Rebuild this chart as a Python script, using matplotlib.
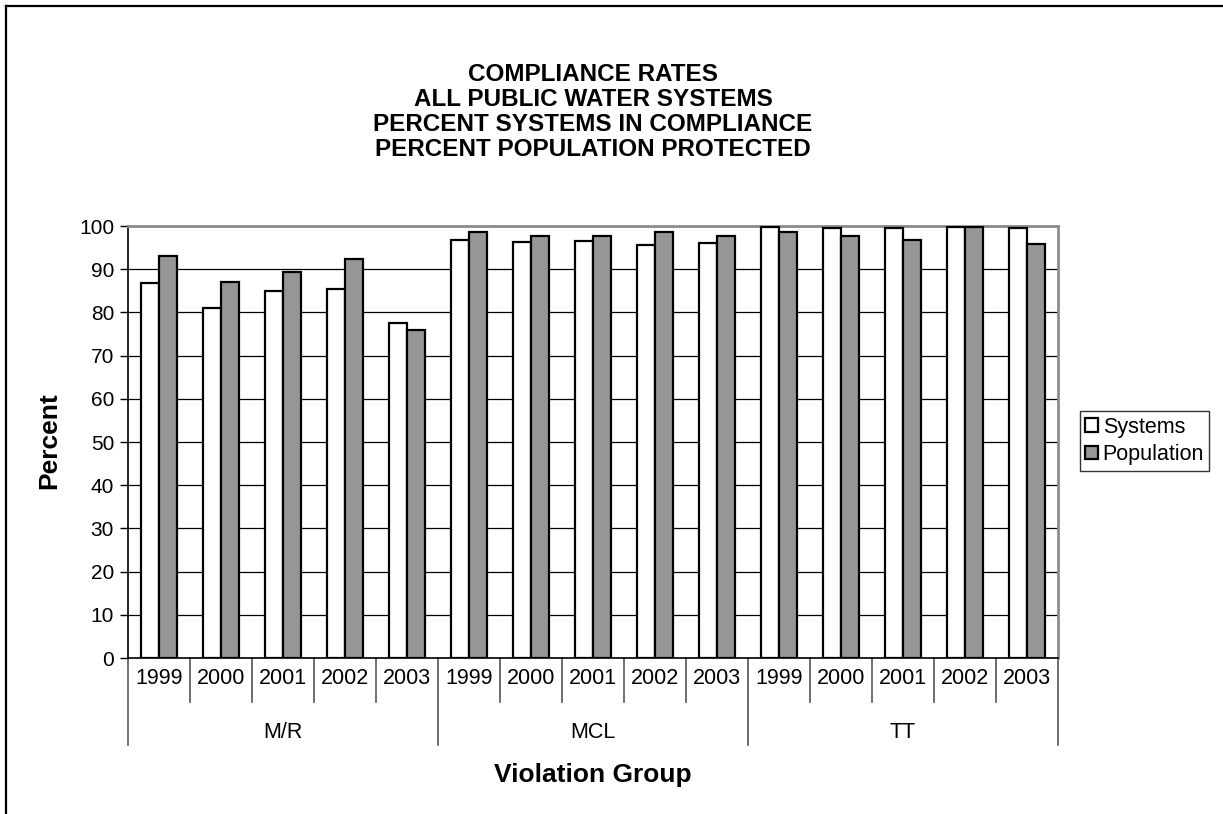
import matplotlib
matplotlib.use("Agg")
import matplotlib.pyplot as plt
import matplotlib.transforms as mtransforms
from matplotlib.patches import Patch
from matplotlib.lines import Line2D

plt.rcParams['font.family'] = ['Liberation Sans', 'DejaVu Sans']

groups = ["M/R", "MCL", "TT"]
years = ["1999", "2000", "2001", "2002", "2003"]
systems = [86.9, 81.1, 84.9, 85.4, 77.6,
           96.8, 96.3, 96.6, 95.5, 96.0,
           99.7, 99.6, 99.6, 99.8, 99.6]
population = [93.1, 87.0, 89.4, 92.3, 75.9,
              98.5, 97.8, 97.8, 98.5, 97.8,
              98.6, 97.8, 96.7, 99.7, 95.8]
yticks = list(range(0, 101, 10))

W, H = 1223, 814
fig = plt.figure(figsize=(W / 100, H / 100), dpi=100)
ax = fig.add_axes([128 / W, 1 - 658 / H, 930 / W, 432 / H])

n = len(systems)
xs = list(range(n))
bw = 0.29
ax.bar([x - bw / 2 for x in xs], systems, width=bw, color="white",
       edgecolor="black", linewidth=1.6, zorder=3, label="Systems")
ax.bar([x + bw / 2 for x in xs], population, width=bw, color="#969696",
       edgecolor="black", linewidth=1.6, zorder=3, label="Population")

ax.set_xlim(-0.5, n - 0.5)
ax.set_ylim(0, 100)
ax.set_yticks(yticks)
ax.tick_params(axis="y", direction="out", length=6, width=1, labelsize=15,
               pad=4, colors="black")
ax.set_xticks([])
ax.yaxis.grid(True, color="black", linewidth=0.9, zorder=0)
ax.set_axisbelow(True)
for side in ("top", "right"):
    ax.spines[side].set_color("#8c8c8c")
    ax.spines[side].set_linewidth(2)
ax.spines["left"].set_color("black")
ax.spines["left"].set_linewidth(1.2)
ax.spines["bottom"].set_color("black")
ax.spines["bottom"].set_linewidth(1.2)

# two-level category axis: years, then violation groups
trans = mtransforms.blended_transform_factory(ax.transData, ax.transAxes)
px = 1 / 432
year_sep = -44 * px
group_sep = -87 * px
for i in range(n + 1):
    x = i - 0.5
    bottom = group_sep if i % len(years) == 0 else year_sep
    ax.add_line(Line2D([x, x], [0, bottom], transform=trans, color="#555555",
                       linewidth=1.2, clip_on=False))
for i in range(n):
    ax.text(i, -21 * px, years[i % len(years)], transform=trans, ha="center",
            va="center", fontsize=15.5)
for g, name in enumerate(groups):
    center = g * len(years) + (len(years) - 1) / 2
    ax.text(center, -74 * px, name, transform=trans, ha="center",
            va="center", fontsize=15.5)

fig.text(49 / W, 1 - 441 / H, "Percent", ha="center", va="center",
         rotation=90, fontsize=19, fontweight="bold")
fig.text(593 / W, 1 - 775 / H, "Violation Group", ha="center", va="center",
         fontsize=19, fontweight="bold")

title = ("COMPLIANCE RATES\nALL PUBLIC WATER SYSTEMS\n"
         "PERCENT SYSTEMS IN COMPLIANCE\nPERCENT POPULATION PROTECTED")
fig.text(593 / W, 1 - 112 / H, title, ha="center", va="center",
         fontsize=17.5, fontweight="bold", linespacing=1.12)

handles = [Patch(facecolor="white", edgecolor="black", linewidth=1.6),
           Patch(facecolor="#969696", edgecolor="black", linewidth=1.6)]
leg = fig.legend(handles, ["Systems", "Population"], loc="center left",
                 bbox_to_anchor=(1080 / W, 1 - 441 / H), fontsize=15.5,
                 frameon=True, fancybox=False, handlelength=0.6,
                 handleheight=0.6, handletextpad=0.2, borderpad=0.25,
                 labelspacing=0.3, borderaxespad=0)
leg.get_frame().set_edgecolor("black")
leg.get_frame().set_linewidth(1)

# outer chart border
fig.add_artist(Line2D([6 / W, 6 / W], [0, 1 - 6 / H], transform=fig.transFigure,
                      color="black", linewidth=1.6))
fig.add_artist(Line2D([6 / W, 1], [1 - 6 / H, 1 - 6 / H],
                      transform=fig.transFigure, color="black", linewidth=1.6))

fig.savefig("out.png", dpi=100, facecolor="white")
